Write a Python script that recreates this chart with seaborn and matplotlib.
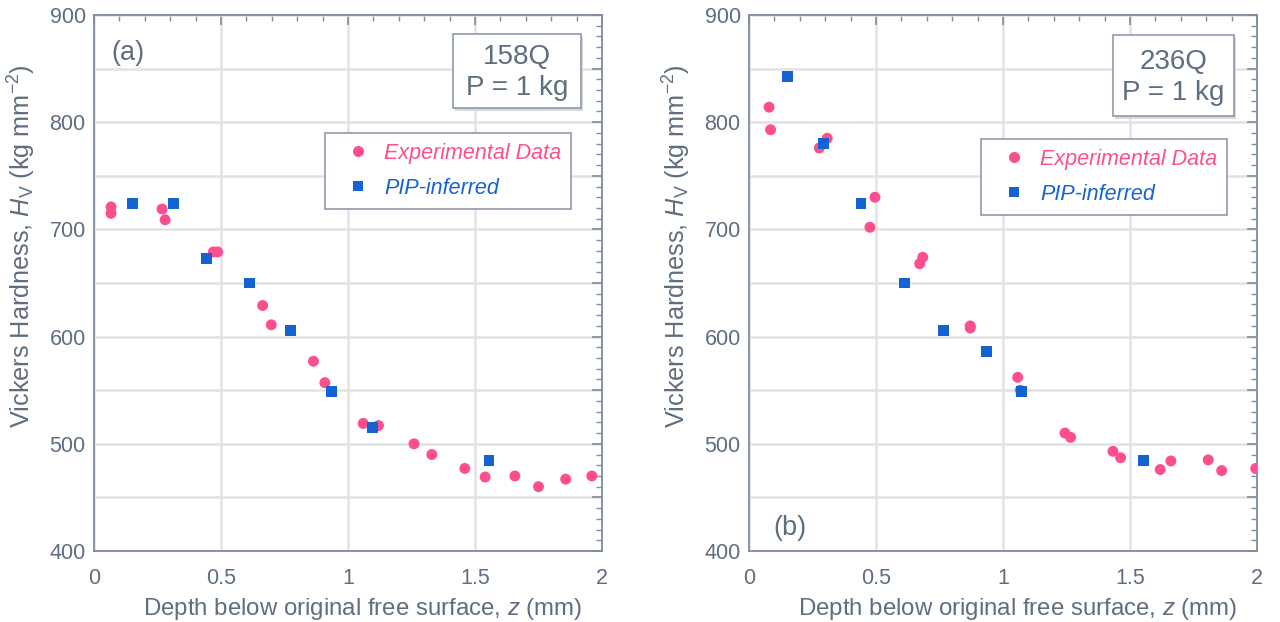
import numpy as np
import pandas as pd
import matplotlib
matplotlib.use("Agg")
import matplotlib.pyplot as plt
import seaborn as sns
from matplotlib.ticker import MultipleLocator, FuncFormatter
from matplotlib.lines import Line2D
from matplotlib.patches import Rectangle

# ---------------- data ----------------
series_names = ["Experimental Data", "PIP-inferred"]
panel_labels = ["(a)", "(b)"]
sample_names = ["158Q", "236Q"]
load_text = "P = 1 kg"

# panel (a) 158Q
a_exp_z = [0.067, 0.067, 0.268, 0.28, 0.47, 0.487, 0.664, 0.698, 0.864, 0.909,
           1.06, 1.12, 1.26, 1.33, 1.46, 1.54, 1.657, 1.75, 1.857, 1.96]
a_exp_hv = [721, 715, 719, 709, 679, 679, 629, 611, 577, 557,
            519, 517, 500, 490, 477, 469, 470, 460, 467, 470]
a_pip_z = [0.152, 0.312, 0.444, 0.614, 0.772, 0.936, 1.096, 1.555]
a_pip_hv = [724, 724, 673, 650, 606, 549, 515, 484]

# panel (b) 236Q
b_exp_z = [0.079, 0.085, 0.277, 0.308, 0.496, 0.476, 0.684, 0.672, 0.871, 0.871,
           1.058, 1.068, 1.244, 1.266, 1.433, 1.463, 1.619, 1.661, 1.808, 1.861, 1.995]
b_exp_hv = [814, 793, 776, 785, 730, 702, 674, 668, 610, 608,
            562, 550, 510, 506, 493, 487, 476, 484, 485, 475, 477]
b_pip_z = [0.151, 0.293, 0.441, 0.611, 0.764, 0.934, 1.072, 1.554]
b_pip_hv = [843, 780, 724, 650, 606, 586, 549, 484]

x_ticks = [0, 0.5, 1, 1.5, 2]
x_tick_labels = ["0", "0.5", "1", "1.5", "2"]
y_ticks = [400, 500, 600, 700, 800, 900]

# ---------------- style ----------------
sns.set_theme(style="white")
plt.rcParams["font.family"] = ["Liberation Sans", "DejaVu Sans"]
plt.rcParams["mathtext.fontset"] = "custom"
plt.rcParams["mathtext.rm"] = "Liberation Sans"
plt.rcParams["mathtext.it"] = "Liberation Sans:italic"
plt.rcParams["mathtext.bf"] = "Liberation Sans:bold"

TXT = "#5e6e80"
FRAME = "#7f8ca2"
GRID = "#e2e2e2"
PINK = "#fd4f8f"
BLUE = "#1463d2"
palette = {series_names[0]: PINK, series_names[1]: BLUE}
markers = {series_names[0]: "o", series_names[1]: "s"}


def make_df(ez, ehv, pz, phv):
    return pd.DataFrame({
        "z": list(ez) + list(pz),
        "hv": list(ehv) + list(phv),
        "series": [series_names[0]] * len(ez) + [series_names[1]] * len(pz),
    })


dfs = [make_df(a_exp_z, a_exp_hv, a_pip_z, a_pip_hv),
       make_df(b_exp_z, b_exp_hv, b_pip_z, b_pip_hv)]

fig = plt.figure(figsize=(12.8, 6.22), dpi=100)
W, H = 1280, 622
ax_lefts = [94, 749]
axes = [fig.add_axes([l / W, 71 / H, 508 / W, 536 / H]) for l in ax_lefts]

info_boxes = [(453, 34, 581, 108), (1113, 35, 1234, 116)]
legend_boxes = [(325, 133), (981, 139)]
panel_label_pos = [(0.035, 0.93), (0.048, 0.043)]
ylabel_x = [-0.111, -0.111]


def px2ax(px, py, left):
    return (px - left) / 508, 1 - (py - 15) / 536


for i, ax in enumerate(axes):
    df = dfs[i]
    ax.set_facecolor("white")
    ax.grid(True, which="major", color=GRID, lw=1.8, zorder=0)
    ax.set_axisbelow(True)
    sns.scatterplot(data=df, x="z", y="hv", hue="series", style="series",
                    palette=palette, markers=markers, s=62, linewidth=0,
                    ax=ax, legend=False, zorder=3)
    ax.set_xlim(0, 2)
    ax.set_ylim(400, 900)
    ax.xaxis.set_major_locator(MultipleLocator(0.5))
    ax.xaxis.set_minor_locator(MultipleLocator(0.1))
    ax.yaxis.set_major_locator(MultipleLocator(50))
    ax.yaxis.set_minor_locator(MultipleLocator(10))
    ax.xaxis.set_major_formatter(FuncFormatter(
        lambda v, p: x_tick_labels[x_ticks.index(round(v, 2))] if round(v, 2) in x_ticks else ""))
    ax.yaxis.set_major_formatter(FuncFormatter(
        lambda v, p: f"{int(round(v))}" if int(round(v)) in y_ticks else ""))
    ax.tick_params(which="both", direction="in", top=True, right=True,
                   colors=FRAME, labelcolor=TXT, labelsize=15.5)
    ax.tick_params(which="major", length=7, width=1.2)
    ax.tick_params(which="minor", length=4, width=1.0)
    ax.tick_params(axis="x", which="major", pad=12)
    ax.tick_params(axis="y", which="major", pad=6)
    for sp in ax.spines.values():
        sp.set_color(FRAME)
        sp.set_linewidth(1.3)
        sp.set_visible(True)

    ax.set_xlabel("Depth below original free surface, $z$ (mm)", color=TXT,
                  fontsize=17.3, labelpad=5)
    ax.xaxis.label.set_x(0.528)
    ax.set_ylabel("Vickers Hardness, $H_\\mathregular{V}$ (kg mm$^{\\mathregular{-2}}$)",
                  color=TXT, fontsize=18.2)
    ax.yaxis.set_label_coords(ylabel_x[i], 0.569)

    # panel label
    ax.text(panel_label_pos[i][0], panel_label_pos[i][1], panel_labels[i],
            transform=ax.transAxes, fontsize=19.5, color=TXT, ha="left", va="center")

    # info box
    x0, y0, x1, y1 = info_boxes[i]
    l = ax_lefts[i]
    ax0, ay1 = px2ax(x0, y0, l)
    ax1_, ay0 = px2ax(x1, y1, l)
    ax.add_patch(Rectangle((ax0 + 0.004, ay0 - 0.006), ax1_ - ax0, ay1 - ay0,
                           transform=ax.transAxes, facecolor="#d6d9de",
                           edgecolor="none", zorder=4, clip_on=False))
    ax.add_patch(Rectangle((ax0, ay0), ax1_ - ax0, ay1 - ay0,
                           transform=ax.transAxes, facecolor="white",
                           edgecolor="#8e99aa", lw=1.2, zorder=5, clip_on=False))
    ax.text((ax0 + ax1_) / 2, (ay0 + ay1) / 2 - 0.003, sample_names[i] + "\n" + load_text,
            transform=ax.transAxes, ha="center", va="center", fontsize=20,
            color=TXT, linespacing=1.25, zorder=6)

    # legend
    handles = [Line2D([], [], marker="o", ls="none", color=PINK, markersize=8,
                      markeredgewidth=0),
               Line2D([], [], marker="s", ls="none", color=BLUE, markersize=7.5,
                      markeredgewidth=0)]
    lx, ly = px2ax(legend_boxes[i][0], legend_boxes[i][1], l)
    leg = ax.legend(handles, series_names, loc="upper left",
                    bbox_to_anchor=(lx, ly), bbox_transform=ax.transAxes,
                    frameon=True, fancybox=False, shadow=False,
                    prop={"size": 15.5, "style": "italic"},
                    handlelength=2.2, handletextpad=0.1, borderpad=0.45,
                    labelspacing=0.66, borderaxespad=0, framealpha=1)
    leg.get_frame().set_edgecolor("#8e99aa")
    leg.get_frame().set_linewidth(1.2)
    leg.set_zorder(7)
    for t, c in zip(leg.get_texts(), [PINK, BLUE]):
        t.set_color(c)

fig.savefig("out.png", dpi=100, facecolor="white")
